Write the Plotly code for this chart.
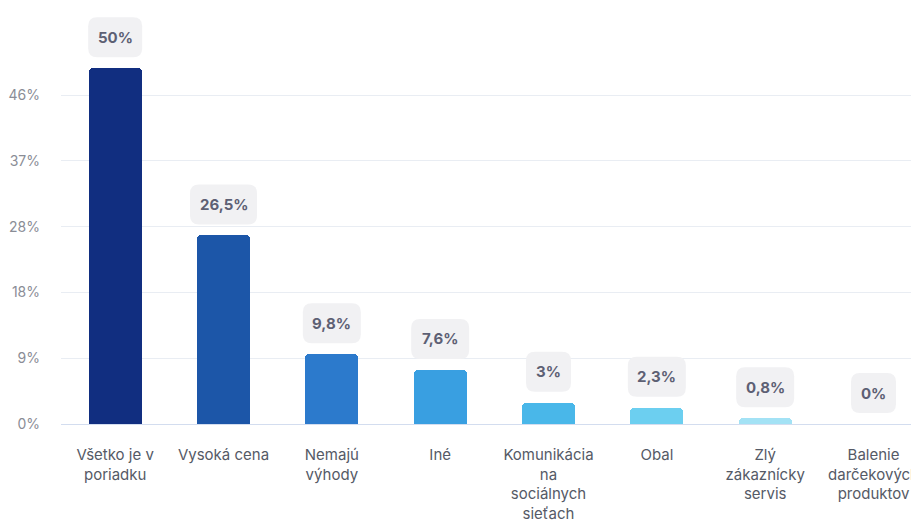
import plotly.graph_objects as go

categories = ["Všetko je v<br>poriadku", "Vysoká cena", "Nemajú<br>výhody", "Iné",
              "Komunikácia<br>na<br>sociálnych<br>sieťach", "Obal",
              "Zlý<br>zákaznícky<br>servis", "Balenie<br>darčekových<br>produktov"]
values = [50, 26.5, 9.8, 7.6, 3, 2.3, 0.8, 0]
bar_colors = ["#112e80", "#1c56a8", "#2c7acc", "#399fe1", "#49b7e9", "#6ccff0", "#a3e2f5", "#c8eefa"]
tick_vals = [0, 9.25, 18.5, 27.75, 37, 46.25]
tick_text = ["0%", "9%", "18%", "28%", "37%", "46%"]


def fmt(v):
    s = ("%g" % v).replace(".", ",")
    return s + "%"


labels = [fmt(v) for v in values]
xs = list(range(len(categories)))

fig = go.Figure()
fig.add_trace(go.Bar(
    x=xs, y=values, width=0.49,
    marker=dict(color=bar_colors, cornerradius=4, line=dict(width=0)),
    hoverinfo="skip",
))

shapes = []
annotations = []
H = 40
for i, (v, lab) in enumerate(zip(values, labels)):
    digits = sum(c.isdigit() for c in lab)
    commas = lab.count(",")
    w = 24 + 9 * digits + 4 * commas + 12
    x0, x1 = -w / 2, w / 2
    y0, y1 = 11, 11 + H
    r = 9
    path = (f"M {x0+r},{y0} L {x1-r},{y0} Q {x1},{y0} {x1},{y0+r} "
            f"L {x1},{y1-r} Q {x1},{y1} {x1-r},{y1} L {x0+r},{y1} "
            f"Q {x0},{y1} {x0},{y1-r} L {x0},{y0+r} Q {x0},{y0} {x0+r},{y0} Z")
    shapes.append(dict(type="path", xref="x", yref="y", xsizemode="pixel", ysizemode="pixel",
                       xanchor=i, yanchor=v, path=path,
                       fillcolor="#f1f1f3", line=dict(width=0), layer="above"))
    annotations.append(dict(x=i, y=v, xref="x", yref="y", text=f"<b>{lab}</b>",
                            showarrow=False, yshift=31,
                            font=dict(family="Inter", size=15, color="#5d6074")))

fig.update_layout(
    width=911, height=517,
    margin=dict(l=53, r=0, t=2, b=101),
    plot_bgcolor="white", paper_bgcolor="white",
    showlegend=False,
    shapes=shapes, annotations=annotations,
    bargap=0,
    xaxis=dict(range=[-0.5, 7.42], tickvals=xs, ticktext=categories,
               showgrid=False, zeroline=False, showline=False, ticks="",
               tickfont=dict(family="Inter", size=15, color="#555a66"),
               ticklabelstandoff=20),
    yaxis=dict(range=[0, 58.2], tickvals=tick_vals, ticktext=tick_text,
               showgrid=True, gridcolor="#e9edf3", gridwidth=1,
               zeroline=True, zerolinecolor="#d3ddef", zerolinewidth=1,
               showline=False, ticks="",
               tickfont=dict(family="Inter", size=14, color="#8a8d96"),
               ticklabelstandoff=20),
)

fig.write_html("out.html")
